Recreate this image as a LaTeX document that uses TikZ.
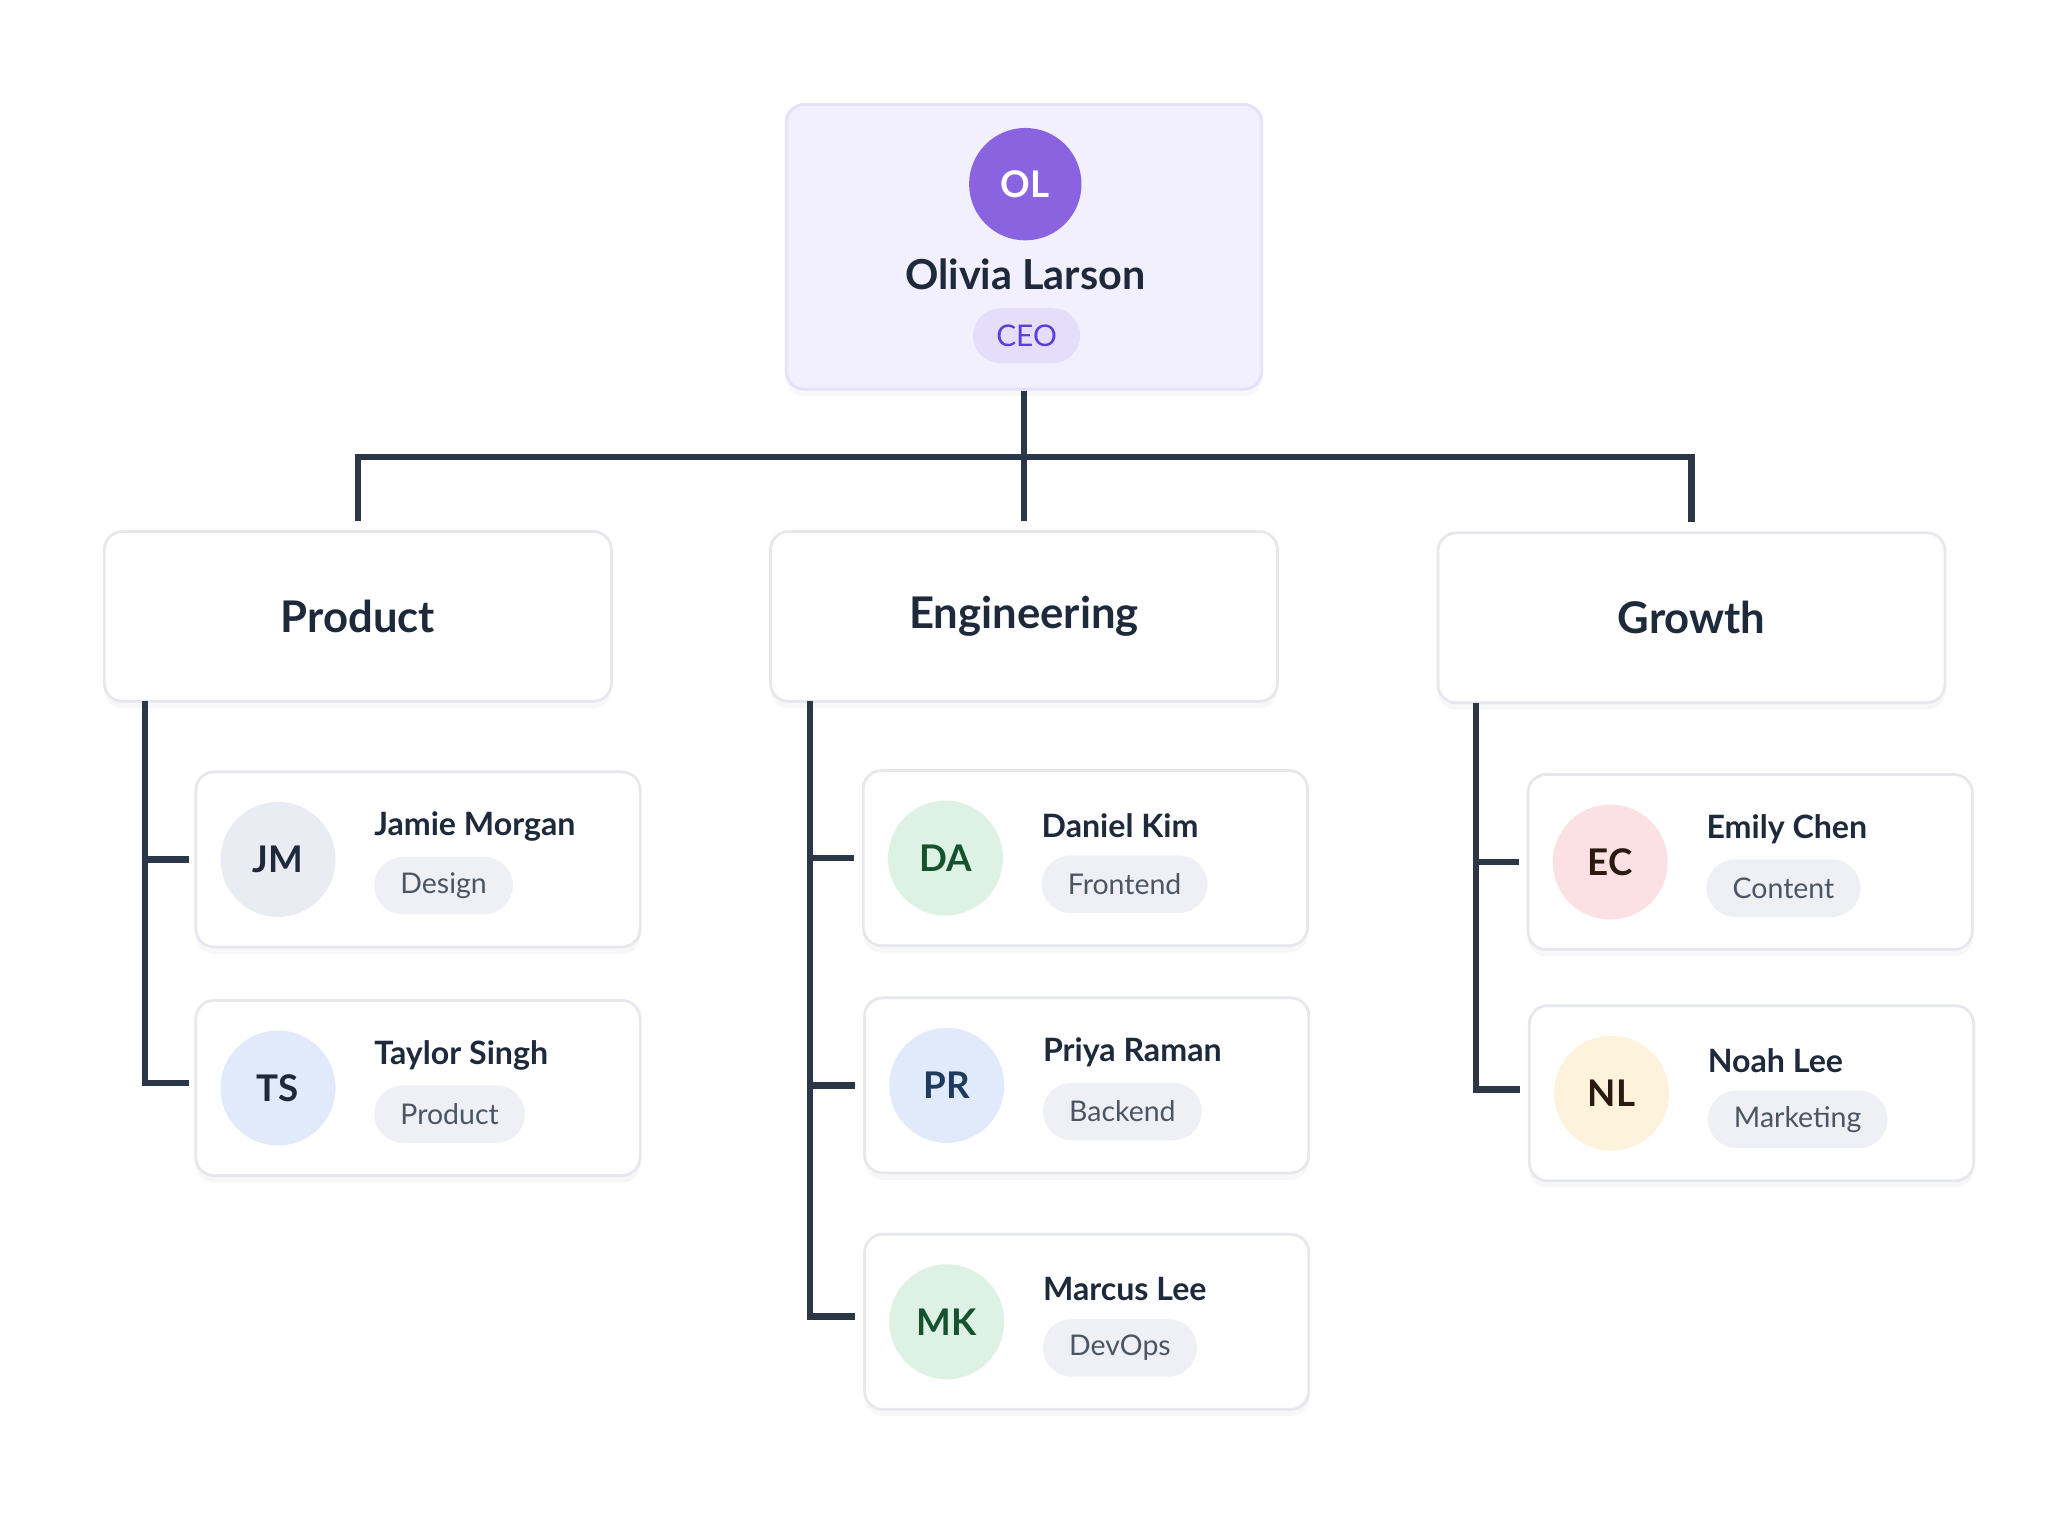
\documentclass[tikz,border=0pt]{standalone}
\usepackage{fontspec}
\setmainfont{Lato}
\usetikzlibrary{positioning,calc,shadows}
\definecolor{ink}{HTML}{1E293B}
\definecolor{line}{HTML}{2B3646}
\definecolor{edge}{HTML}{E6E8EE}
\definecolor{pill}{HTML}{EEF0F5}
\definecolor{pilltext}{HTML}{4B5563}
\definecolor{ceobg}{HTML}{F2F0FD}
\definecolor{ceoedge}{HTML}{E6E1F8}
\definecolor{ceoav}{HTML}{8A63E0}
\definecolor{ceopill}{HTML}{E4DEFB}
\definecolor{ceotext}{HTML}{5B3FD6}
\definecolor{avgray}{HTML}{E9ECF3}
\definecolor{avblue}{HTML}{E1EAFB}
\definecolor{avgreen}{HTML}{DDF2E4}
\definecolor{avred}{HTML}{FCE1E4}
\definecolor{avyellow}{HTML}{FDF3DD}
\definecolor{txgreen}{HTML}{14532D}
\definecolor{txblue}{HTML}{1E3A5F}
\definecolor{txdark}{HTML}{2A1A10}
\tikzset{
  card/.style={draw=edge, fill=white, rounded corners=0.14cm, line width=0.6pt,
    drop shadow={opacity=0.06, shadow xshift=0pt, shadow yshift=-1.5pt}},
  dept/.style={card, minimum width=3.88cm, minimum height=1.3cm, font=\bfseries\fontsize{9.5}{11}\selectfont, text=ink},
  person/.style={card, minimum width=3.4cm, minimum height=1.34cm},
  avatar/.style={circle, minimum size=0.88cm, inner sep=0pt, font=\bfseries\fontsize{8}{9}\selectfont},
  pname/.style={anchor=west, inner sep=0pt, font=\bfseries\fontsize{7}{8}\selectfont, text=ink},
  prole/.style={anchor=west, fill=pill, rounded corners=0.22cm, minimum height=0.44cm, inner xsep=0.2cm, font=\fontsize{6.2}{7}\selectfont, text=pilltext},
  link/.style={draw=line, line width=1.4pt}
}
% one member card: node name, centre, initials, avatar fill, initials colour, name, role
\newcommand{\member}[7]{
  \node[person] (#1) at (#2) {};
  \node[avatar, fill=#4, text=#5] (#1av) at ($(#1.west)+(64,0)$) {#3};
  \node[pname] (#1nm) at ($(#1.west)+(137,-25)$) {#6};
  \node[prole] (#1rl) at ($(#1.west)+(137,20)$) {#7};
}
\begin{document}
\begin{tikzpicture}[x=0.01cm, y=-0.01cm]
  \fill[white] (0,0) rectangle (1568,1176);
  % top
  \node[card, fill=ceobg, draw=ceoedge, minimum width=3.64cm, minimum height=2.18cm] (ceo) at (784,189) {};
  \node[avatar, fill=ceoav, text=white, minimum size=0.86cm] (ceoav) at (785,141) {OL};
  \node[inner sep=0pt, font=\bfseries\fontsize{9}{10}\selectfont, text=ink] (ceonm) at (785,210) {Olivia Larson};
  \node[fill=ceopill, rounded corners=0.21cm, minimum height=0.42cm, minimum width=0.82cm, font=\fontsize{6.5}{7}\selectfont, text=ceotext] (ceorl) at (786,257) {CEO};
  % departments
  \node[dept] (prod) at (274,472) {Product};
  \node[dept] (eng) at (784,472) {Engineering};
  \node[dept] (grow) at (1295,473) {Growth};
  \coordinate (bus) at (784,350);
  \draw[link] (ceo.south) -- (bus) -- ($(eng.north)+(0,-7)$);
  \draw[link] ($(prod.north)+(0,-7)$) |- (bus) -| ($(grow.north)+(0,-7)$);
  % members
  \member{jm}{320,658}{JM}{avgray}{ink}{Jamie Morgan}{Design}
  \member{ts}{320,833}{TS}{avblue}{ink}{Taylor Singh}{Product}
  \member{da}{831,657}{DA}{avgreen}{txgreen}{Daniel Kim}{Frontend}
  \member{pr}{832,831}{PR}{avblue}{txblue}{Priya Raman}{Backend}
  \member{mk}{832,1012}{MK}{avgreen}{txgreen}{Marcus Lee}{DevOps}
  \member{ec}{1340,660}{EC}{avred}{txdark}{Emily Chen}{Content}
  \member{nl}{1341,837}{NL}{avyellow}{txdark}{Noah Lee}{Marketing}
  % branches
  \coordinate (pt) at (111,537);
  \coordinate (et) at (620,537);
  \coordinate (gt) at (1130,538);
  \draw[link] (pt) |- ($(ts.west)+(-4,-4)$);
  \draw[link] (pt |- jm.west) -- ($(jm.west)+(-4,0)$);
  \draw[link] (et) |- ($(mk.west)+(-6,-4)$);
  \draw[link] (et |- da.west) -- ($(da.west)+(-6,0)$);
  \draw[link] (et |- pr.west) -- ($(pr.west)+(-6,0)$);
  \draw[link] (gt) |- ($(nl.west)+(-6,-3)$);
  \draw[link] (gt |- ec.west) -- ($(ec.west)+(-6,0)$);
\end{tikzpicture}
\end{document}
